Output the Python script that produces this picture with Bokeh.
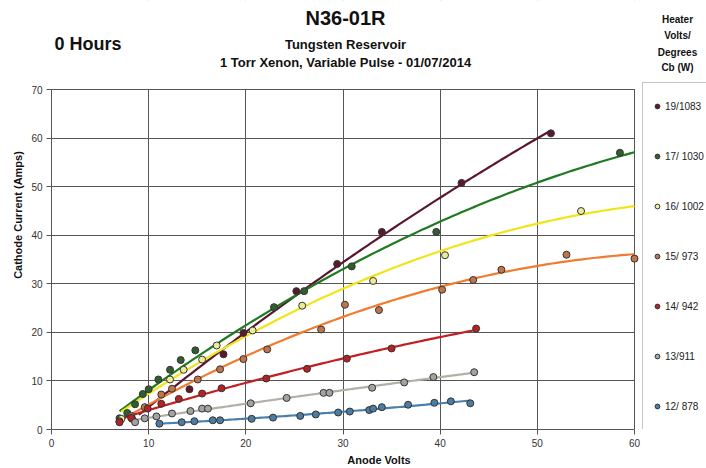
import numpy as np
from bokeh.plotting import figure
from bokeh.models import Label, Legend, LegendItem, Range1d, FixedTicker
from bokeh.embed import file_html
from bokeh.resources import INLINE

# ---------------- data ----------------
legend_labels = ["19/1083", "17/ 1030", "16/ 1002", "15/ 973", "14/ 942", "13/911", "12/ 878"]

x_19 = [7.0, 8.3, 14.2, 17.7, 19.75, 25.2, 29.4, 34.0, 42.2, 51.4]
y_19 = [1.6, 2.2, 8.3, 15.5, 19.9, 28.5, 34.1, 40.7, 50.8, 61.0]

x_17 = [7.0, 7.8, 8.6, 9.4, 10.0, 11.0, 12.2, 13.3, 14.8, 22.9, 26.0, 30.9, 39.6, 58.5]
y_17 = [2.3, 3.4, 5.2, 7.3, 8.3, 10.3, 12.3, 14.3, 16.3, 25.2, 28.5, 33.6, 40.7, 57.0]

x_16 = [7.2, 12.2, 13.6, 15.5, 17.0, 20.7, 25.8, 33.1, 40.5, 54.5]
y_16 = [2.2, 10.3, 12.3, 14.4, 17.3, 20.4, 25.5, 30.6, 35.9, 45.0]

x_15 = [7.0, 8.2, 9.6, 11.3, 12.4, 15.05, 17.35, 19.75, 22.2, 27.75, 30.2, 33.7, 40.2, 43.4, 46.3, 53.0, 60.0]
y_15 = [1.7, 2.8, 4.6, 7.2, 8.4, 10.3, 12.4, 14.5, 16.5, 20.6, 25.7, 24.6, 28.8, 30.8, 32.9, 36.0, 35.2]

x_14 = [7.0, 8.2, 9.9, 11.3, 13.1, 15.5, 17.5, 22.1, 26.3, 30.4, 35.0, 43.7]
y_14 = [1.5, 2.4, 4.3, 5.3, 6.3, 7.4, 8.5, 10.5, 12.5, 14.6, 16.7, 20.8]

x_13 = [8.6, 9.6, 10.8, 12.4, 14.3, 15.5, 16.1, 20.5, 24.2, 28.0, 28.6, 33.0, 36.3, 39.3, 43.5]
y_13 = [1.5, 2.3, 2.7, 3.3, 3.8, 4.3, 4.3, 5.4, 6.5, 7.55, 7.55, 8.6, 9.7, 10.8, 11.8]

x_12 = [11.1, 13.4, 14.7, 16.6, 17.35, 20.6, 22.8, 25.6, 27.2, 29.5, 30.7, 32.7, 33.1, 34.0, 36.7, 39.4, 41.1, 43.1]
y_12 = [1.2, 1.5, 1.7, 1.9, 1.9, 2.2, 2.45, 2.8, 3.1, 3.5, 3.7, 4.0, 4.3, 4.6, 5.1, 5.5, 5.8, 5.4]

# trendline extent per series (volts); None = first data point
trend_start = [9.0, None, None, None, None, None, None]
trend_end = [51.4, 60.0, 60.0, 60.0, 43.7, 43.7, 43.1]

x_ticks = [0, 10, 20, 30, 40, 50, 60]
y_ticks = [0, 10, 20, 30, 40, 50, 60, 70]
X_MAX, Y_MAX = 60, 70

xs_all = [x_19, x_17, x_16, x_15, x_14, x_13, x_12]
ys_all = [y_19, y_17, y_16, y_15, y_14, y_13, y_12]

marker_fill = ["#5a1a2c", "#2f5f30", "#ecec9a", "#c0744c", "#b52224", "#a3a3a3", "#4c7ca2"]
line_color = ["#5a1830", "#1f7a22", "#f2e41a", "#f07c32", "#c21f22", "#b3b1a6", "#4a7fae"]

FONT = "Liberation Sans"

# ---------------- layout geometry (pixels) ----------------
W, H = 706, 468
LEFT, BOTTOM = 51, 35            # axis panels
PLOT_W, PLOT_H = 583, 343        # data area 0..60 x 0..70
PX_X = PLOT_W / X_MAX
PX_Y = PLOT_H / Y_MAX
FRAME_W, FRAME_H = W - LEFT, H - BOTTOM
x_end = FRAME_W / PX_X
y_end = FRAME_H / PX_Y

p = figure(width=W, height=H, output_backend="svg", toolbar_location=None,
           x_range=Range1d(0, x_end), y_range=Range1d(0, y_end),
           min_border_left=LEFT, min_border_right=0, min_border_top=0, min_border_bottom=BOTTOM)
p.background_fill_color = "white"
p.border_fill_color = "white"
p.outline_line_color = None

for ax, ticks, lim in ((p.xaxis[0], x_ticks, X_MAX), (p.yaxis[0], y_ticks, Y_MAX)):
    ax.ticker = FixedTicker(ticks=ticks)
    ax.bounds = (0, lim)
    ax.minor_tick_line_color = None
    ax.major_tick_out = 5
    ax.major_tick_in = 0
    ax.major_tick_line_color = "#555555"
    ax.axis_line_color = "#555555"
    ax.major_label_text_font = FONT
    ax.major_label_text_font_size = "10px"
    ax.major_label_text_color = "#333333"
    ax.major_label_standoff = 4
    ax.axis_label_text_font = FONT
    ax.axis_label_text_font_size = "11px"
    ax.axis_label_text_font_style = "bold"
    ax.axis_label_text_color = "#111111"
    ax.axis_label_standoff = 4

p.xaxis[0].axis_label = "Anode Volts"
p.yaxis[0].axis_label = "Cathode Current (Amps)"

p.xgrid[0].ticker = p.xaxis[0].ticker
p.ygrid[0].ticker = p.yaxis[0].ticker
for g in (p.xgrid[0], p.ygrid[0]):
    g.grid_line_color = "#555555"
    g.grid_line_width = 1
    g.grid_line_alpha = 1.0

# white masks: keep grid lines inside the 0..60 x 0..70 plot box
ex, ey = 0.6 / PX_X, 0.6 / PX_Y
p.quad(left=[X_MAX + ex], right=[x_end + 1], bottom=[-1], top=[y_end + 1],
       fill_color="white", line_color=None)
p.quad(left=[-1], right=[x_end + 1], bottom=[Y_MAX + ey], top=[y_end + 1],
       fill_color="white", line_color=None)

items = []
for xs, ys, lc, xs0, xe in zip(xs_all, ys_all, line_color, trend_start, trend_end):
    coef = np.polyfit(xs, ys, 2)
    x0 = min(xs) if xs0 is None else xs0
    tx = np.linspace(x0, xe, 120)
    ty = np.polyval(coef, tx)
    p.line(tx, ty, line_color=lc, line_width=2.2)
for xs, ys, mf, lab in zip(xs_all, ys_all, marker_fill, legend_labels):
    r = p.scatter(xs, ys, size=7, fill_color=mf, line_color="#333333", line_width=1)
    items.append(LegendItem(label=lab, renderers=[r]))

legend = Legend(items=items, location=(591, -1))
legend.label_text_font = FONT
legend.label_text_font_size = "10px"
legend.label_text_color = "#222222"
legend.glyph_width = 12
legend.glyph_height = 30
legend.label_height = 30
legend.spacing = 20
legend.padding = 8
legend.margin = 0
legend.label_standoff = 2
legend.border_line_color = "#8a8a8a"
legend.border_line_width = 1
legend.background_fill_color = "white"
p.add_layout(legend, "center")

# canvas pixel -> data coordinates
def dx(px):
    return (px - LEFT) / PX_X

def dy(py):
    return (FRAME_H - py) / PX_Y

def txt(text, px, py, size, align="center"):
    p.add_layout(Label(x=dx(px), y=dy(py), text=text, text_font=FONT, text_font_size=size,
                       text_font_style="bold", text_align=align, text_baseline="middle",
                       text_color="#111111"))

txt("N36-01R", 345, 18, "20px")
txt("Tungsten Reservoir", 345, 44, "13px")
txt("1 Torr Xenon, Variable Pulse - 01/07/2014", 345, 63, "13px")
txt("0 Hours", 54, 44, "18px", align="left")
for t, yy in zip(["Heater", "Volts/", "Degrees", "Cb (W)"], [19, 35, 52, 68]):
    txt(t, 677, yy, "10px")

open("out.html", "w").write(file_html(p, INLINE))
